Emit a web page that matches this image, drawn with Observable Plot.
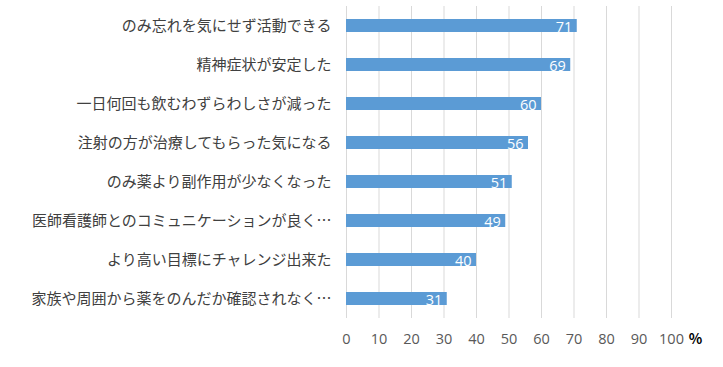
<!DOCTYPE html>
<html><head><meta charset="utf-8">
<script src="https://cdn.jsdelivr.net/npm/d3@7"></script>
<script src="https://cdn.jsdelivr.net/npm/@observablehq/plot@0.6"></script>
<style>
body{margin:0;background:#fff;}
#chart svg{display:block;}
</style>
</head><body><div id="chart"></div>
<script>
const categories = [
  "のみ忘れを気にせず活動できる",
  "精神症状が安定した",
  "一日何回も飲むわずらわしさが減った",
  "注射の方が治療してもらった気になる",
  "のみ薬より副作用が少なくなった",
  "医師看護師とのコミュニケーションが良く…",
  "より高い目標にチャレンジ出来た",
  "家族や周囲から薬をのんだか確認されなく…"
];
const values = [71, 69, 60, 56, 51, 49, 40, 31];
const xTicks = [0, 10, 20, 30, 40, 50, 60, 70, 80, 90, 100];
const unitLabel = "%";

const data = categories.map((c, i) => ({category: c, value: values[i]}));

const chart = Plot.plot({
  width: 723,
  height: 367,
  marginLeft: 346,
  marginRight: 52,
  marginTop: 6,
  marginBottom: 49,
  style: {fontFamily: "'Noto Sans CJK JP', 'Noto Sans', sans-serif", background: "#fff"},
  x: {domain: [0, 100], ticks: xTicks},
  y: {domain: categories, paddingInner: 0.66, paddingOuter: 0.33},
  marks: [
    Plot.ruleX(xTicks, {stroke: "#d9d9d9", strokeWidth: 1}),
    Plot.axisX({ticks: xTicks, tickSize: 0, tickPadding: 15, label: null, fontSize: 14.5, color: "#595959", fontFamily: "'Open Sans', sans-serif"}),
    Plot.axisY({tickSize: 0, tickPadding: 15, label: null, fontSize: 15, color: "#404040"}),
    Plot.barX(data, {x: "value", y: "category", fill: "#5b9bd5"}),
    Plot.text(data, {x: "value", y: "category", text: d => String(d.value), textAnchor: "end", dx: -5, dy: 1, fill: "white", fontSize: 14.5, fontFamily: "'Open Sans', sans-serif"}),
    Plot.text([unitLabel], {frameAnchor: "bottom-right", textAnchor: "middle", dx: 24, dy: 25, fontSize: 14, fill: "#000", fontWeight: "bold"})
  ]
});
document.getElementById("chart").append(chart);
</script>
</body></html>
